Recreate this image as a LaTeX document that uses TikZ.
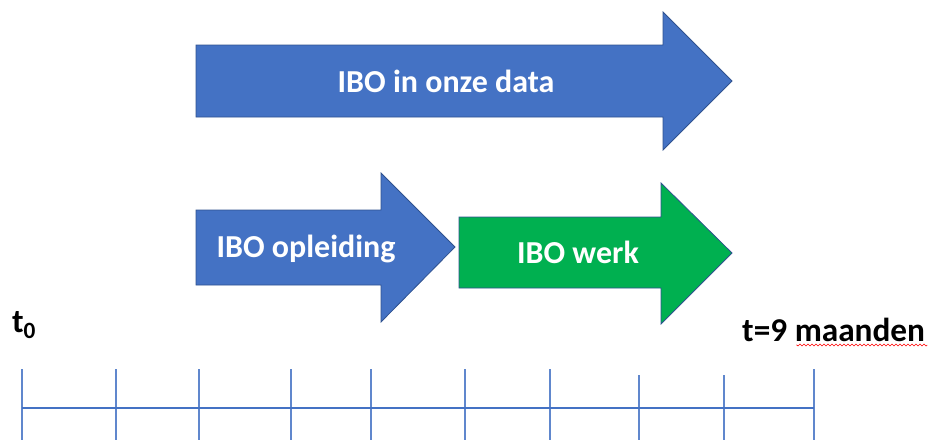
\documentclass[tikz,border=0pt]{standalone}
\usepackage{fontspec}
\setmainfont{Carlito}
\usepackage{xcolor}
\usepackage{tikz}
\usetikzlibrary{positioning,calc,decorations.pathmorphing}
\definecolor{iboblue}{HTML}{4472C4}
\definecolor{ibogreen}{HTML}{00B050}
\definecolor{iboedge}{HTML}{2F528F}

\begin{document}
\begin{tikzpicture}[x=1pt,y=-1pt,
    pijl/.style={draw=iboedge, line width=0.8pt, line join=miter},
    label/.style={text=white, font=\bfseries\fontsize{32}{36}\selectfont, anchor=base, inner sep=0pt},
    tijd/.style={text=black, font=\bfseries\fontsize{33.3}{36}\selectfont, anchor=base west, inner sep=0pt},
    as/.style={iboblue, line width=2.8pt},
    streep/.style={iboblue!85, line width=1.6pt}]
    \useasboundingbox (0,0) rectangle (928,440);

    % bovenste pijl
    \draw[pijl, fill=iboblue] (196,45) -- (663,45) -- (663,12) -- (732,81) -- (663,150) -- (663,117) -- (196,117) -- cycle;
    \node[label] (data) at (446,92) {IBO in onze data};

    % opleiding en werk
    \draw[pijl, fill=iboblue] (196,210) -- (381,210) -- (381,173) -- (455,247) -- (381,322) -- (381,285) -- (196,285) -- cycle;
    \node[label] (opl) at (306,257) {IBO opleiding};
    \draw[pijl, fill=ibogreen] (459,217) -- (661,217) -- (661,183) -- (732,253) -- (661,324) -- (661,288) -- (459,288) -- cycle;
    \node[label] (werk) at (578,263) {IBO werk};

    % tijdlijn
    \node[tijd] (t0) at (12,332) {t\textsubscript{0}};
    \node[tijd] (t9) at (742,341) {t=9 maanden};
    \draw[red, line width=0.6pt, decorate, decoration={snake, amplitude=1pt, segment length=4pt}]
        ($(t9.base east)+(2,4)$) -- ($(t9.base east)+(-129,4)$);
    \coordinate (begin) at (22,408);
    \coordinate (eind) at (814,408);
    \foreach \x/\top in {22/369, 116/369, 199/369, 291/369, 371/369, 465/369, 550/369, 639/375, 724/375, 814/369}
        \draw[streep] (\x,\top) -- (\x,440);
    \draw[as] (begin) -- (eind);
\end{tikzpicture}
\end{document}
